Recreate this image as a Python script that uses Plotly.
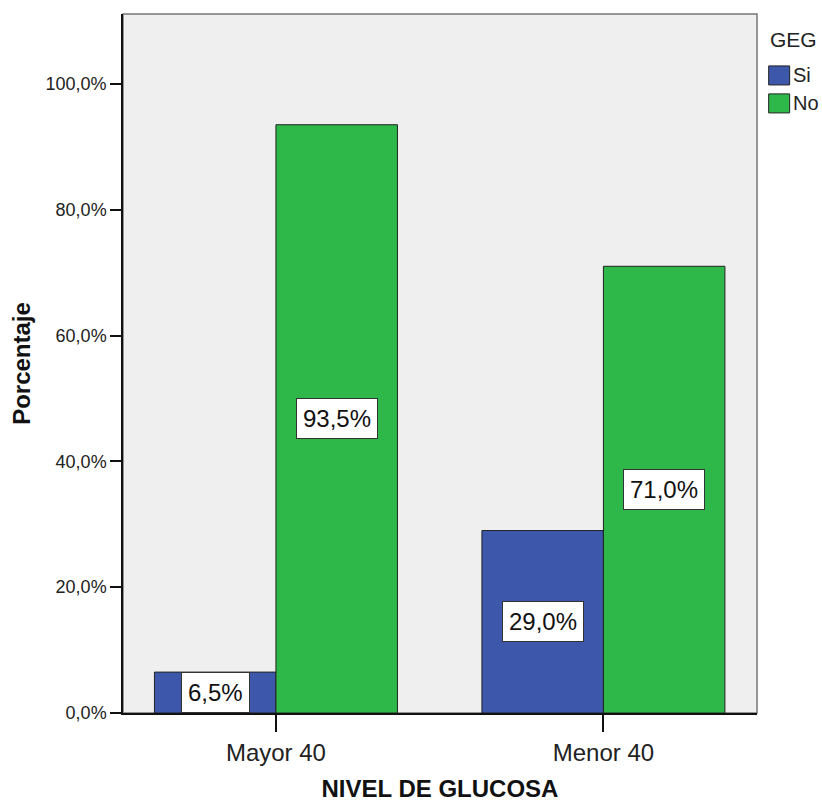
import plotly.graph_objects as go

categories = ["Mayor 40", "Menor 40"]
series_names = ["Si", "No"]
si_values = [6.5, 29.0]
no_values = [93.5, 71.0]
tick_vals = [0, 20, 40, 60, 80, 100]
tick_text = ["0,0%", "20,0%", "40,0%", "60,0%", "80,0%", "100,0%"]
legend_title = "GEG"

colors = {"Si": "#3D57AB", "No": "#2FB84A"}
values = {"Si": si_values, "No": no_values}

bargap = 0.258
half = (1 - bargap) / 4  # offset of each bar centre from the category centre

fig = go.Figure()
for name in series_names:
    fig.add_trace(go.Bar(
        x=categories, y=values[name], name=name, showlegend=False,
        marker=dict(color=colors[name], line=dict(color="#222222", width=1)),
    ))

annotations = []
for k, name in enumerate(series_names):
    off = -half if k == 0 else half
    for i, v in enumerate(values[name]):
        annotations.append(dict(
            x=i + off, y=v / 2, xref="x", yref="y",
            text=f"{v:.1f}%".replace(".", ","),
            showarrow=False,
            font=dict(family="Arial", size=24, color="#111111"),
            bgcolor="white", bordercolor="#333333", borderwidth=1, borderpad=6,
        ))

# custom legend (large swatches like the reference)
shapes = [dict(type="rect", xref="x domain", yref="y domain", x0=0, x1=1, y0=0, y1=1,
               line=dict(color="#777777", width=1.5), layer="below")]
annotations.append(dict(x=1.017, y=0.964, xref="paper", yref="paper", xanchor="left",
                        yanchor="middle", text=legend_title, showarrow=False,
                        font=dict(family="Arial", size=21, color="#222222")))
sw_top = 0.9257
sw_h = 0.0272
sw_step = 0.040
for k, name in enumerate(series_names):
    y1 = sw_top - k * sw_step
    y0 = y1 - sw_h
    shapes.append(dict(type="rect", xref="paper", yref="paper", x0=1.0184, x1=1.0515,
                       y0=y0, y1=y1, fillcolor=colors[name],
                       line=dict(color="#222222", width=1)))
    annotations.append(dict(x=1.053, y=(y0 + y1) / 2, xref="paper", yref="paper",
                            xanchor="left", yanchor="middle", text=name, showarrow=False,
                            font=dict(family="Arial", size=20, color="#222222")))

fig.update_layout(
    width=822, height=803,
    margin=dict(l=123.3, r=65.3, t=14, b=89.7, autoexpand=False),
    paper_bgcolor="white", plot_bgcolor="#EFEFEF",
    barmode="group", bargap=bargap, bargroupgap=0,
    font=dict(family="Arial", color="#111111"),
    annotations=annotations,
    shapes=shapes,
    showlegend=False,
)

fig.update_xaxes(
    type="category", range=[-0.467, 1.469],
    showline=True, linecolor="#111111", linewidth=1.5,
    ticks="outside", ticklen=17, tickcolor="#111111", tickwidth=1.5,
    tickfont=dict(size=24, color="#222222"),
    title=dict(text="<b>NIVEL DE GLUCOSA</b>", font=dict(size=24, color="#111111"), standoff=16),
    showgrid=False, zeroline=False,
)
fig.update_yaxes(
    range=[0, 111.1],
    tickvals=tick_vals, ticktext=tick_text,
    showline=True, linecolor="#111111", linewidth=1.5,
    ticks="outside", ticklen=11, tickcolor="#111111", tickwidth=1.5,
    tickfont=dict(size=18, color="#222222"),
    title=dict(text="<b>Porcentaje</b>", font=dict(size=24, color="#111111"), standoff=8),
    showgrid=False, zeroline=False,
)

fig.write_html(
    "out.html",
    config={"displayModeBar": False},
    post_script="document.body.style.margin='0';document.body.style.overflow='hidden';",
)
